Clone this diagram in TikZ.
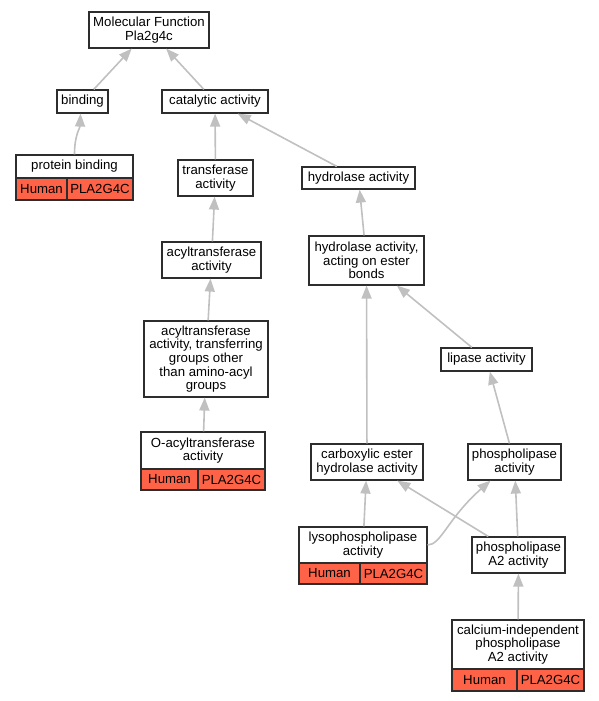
\documentclass[tikz,border=0pt]{standalone}
\usepackage{fontspec}
\setmainfont{Liberation Sans}
\usetikzlibrary{arrows.meta}
\definecolor{termline}{RGB}{45,45,45}
\definecolor{edgegray}{RGB}{192,192,192}
\definecolor{genered}{RGB}{255,99,71}

\begin{document}
\begin{tikzpicture}[x=1pt, y=-1pt,
    term/.style={draw=termline, line width=1.2pt, fill=white, align=center,
      inner sep=0pt, font=\fontsize{13.2}{13.6}\selectfont},
    gene/.style={term, fill=genered},
    isa/.style={draw=edgegray, line width=1.6pt, -{Triangle[length=13pt, width=10pt]}}]
  \useasboundingbox (0,0) rectangle (599,701);
  % terms
  \node[term, minimum width=120pt, minimum height=36pt] (mf) at (149,30) {Molecular Function\\Pla2g4c};
  \node[term, minimum width=51pt, minimum height=23pt] (bind) at (82.5,101.5) {binding};
  \node[term, minimum width=106pt, minimum height=23pt] (cat) at (215,101.5) {catalytic activity};
  \node[term, minimum width=117pt, minimum height=23pt] (prot) at (74.5,166.5) {protein binding};
  \node[gene, minimum width=51pt, minimum height=22pt] (protH) at (41.5,189) {Human};
  \node[gene, minimum width=66pt, minimum height=22pt] (protP) at (100,189) {PLA2G4C};
  \node[term, minimum width=75pt, minimum height=36pt] (trans) at (215.5,178) {transferase\\activity};
  \node[term, minimum width=113pt, minimum height=22pt] (hyd) at (358.5,178) {hydrolase activity};
  \node[term, minimum width=99pt, minimum height=36pt] (acyl) at (211.5,260) {acyltransferase\\activity};
  \node[term, minimum width=115pt, minimum height=49pt] (hydest) at (366.5,260.5) {hydrolase activity,\\acting on ester\\bonds};
  \node[term, minimum width=124pt, minimum height=76pt] (acyltr) at (206,359) {acyltransferase\\activity, transferring\\groups other\\than amino-acyl\\groups};
  \node[term, minimum width=91pt, minimum height=23pt] (lip) at (486.5,359.5) {lipase activity};
  \node[term, minimum width=124pt, minimum height=37pt] (oacyl) at (203,450.5) {O-acyltransferase\\activity};
  \node[gene, minimum width=57pt, minimum height=21pt] (oacylH) at (169.5,479.5) {Human};
  \node[gene, minimum width=67pt, minimum height=21pt] (oacylP) at (231.5,479.5) {PLA2G4C};
  \node[term, minimum width=112pt, minimum height=36pt] (carb) at (367,462) {carboxylic ester\\hydrolase activity};
  \node[term, minimum width=93pt, minimum height=36pt] (phos) at (514.5,462) {phospholipase\\activity};
  \node[term, minimum width=128pt, minimum height=36pt] (lyso) at (363,545) {lysophospholipase\\activity};
  \node[gene, minimum width=61pt, minimum height=21pt] (lysoH) at (329.5,573.5) {Human};
  \node[gene, minimum width=67pt, minimum height=21pt] (lysoP) at (393.5,573.5) {PLA2G4C};
  \node[term, minimum width=93pt, minimum height=36pt] (pla2) at (518.5,555) {phospholipase\\A2 activity};
  \node[term, minimum width=132pt, minimum height=49pt] (calc) at (518,644.5) {calcium-independent\\phospholipase\\A2 activity};
  \node[gene, minimum width=65pt, minimum height=22pt] (calcH) at (484.5,680) {Human};
  \node[gene, minimum width=67pt, minimum height=22pt] (calcP) at (550.5,680) {PLA2G4C};
  % is_a edges
  \draw[isa] (bind) -- (mf);
  \draw[isa] (cat) -- (mf);
  \draw[isa] (prot.north) .. controls (74.5,135) and (80,128) .. ([xshift=-2pt]bind.south);
  \draw[isa] (trans) -- (cat);
  \draw[isa] (hyd) -- (cat);
  \draw[isa] (acyl) -- (trans);
  \draw[isa] (hydest) -- (hyd);
  \draw[isa] (acyltr) -- (acyl);
  \draw[isa] (lip) -- (hydest);
  \draw[isa] (oacyl) -- (acyltr);
  \draw[isa] (carb) -- (hydest);
  \draw[isa] (phos) -- (lip);
  \draw[isa] (lyso) -- (carb);
  \draw[isa] (lyso.east) .. controls (441,545) and (448,518) .. ([xshift=-24pt]phos.south);
  \draw[isa] (pla2) -- (carb);
  \draw[isa] (pla2) -- (phos);
  \draw[isa] (calc) -- (pla2);
\end{tikzpicture}
\end{document}
